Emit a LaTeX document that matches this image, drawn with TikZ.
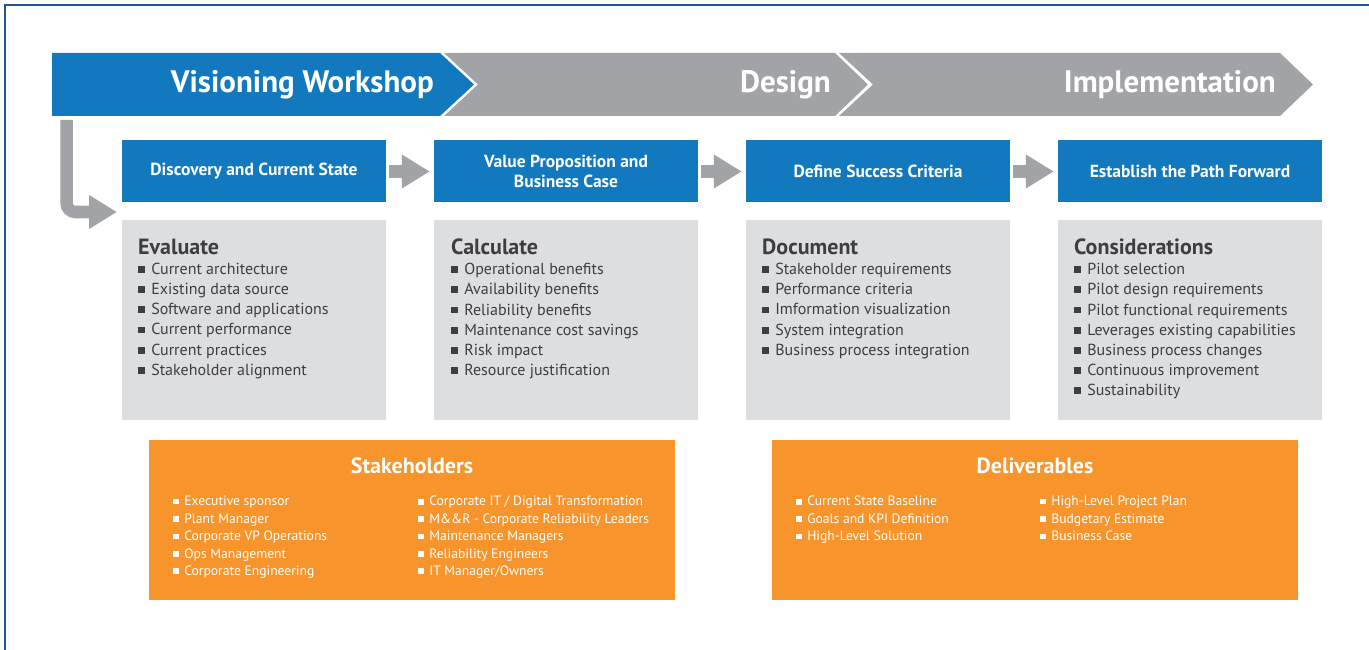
\documentclass[tikz,border=0pt]{standalone}
\usepackage{fontspec}
\setmainfont{PT Sans}
\usetikzlibrary{arrows.meta}

\definecolor{emblue}{RGB}{18,121,191}
\definecolor{emgray}{RGB}{162,163,166}
\definecolor{panelgray}{RGB}{221,222,224}
\definecolor{emorange}{RGB}{247,148,43}
\definecolor{textgray}{RGB}{62,62,64}
\definecolor{framecol}{RGB}{35,85,150}

\newcommand{\blt}{\rule[0.1em]{0.42em}{0.42em}\hspace{0.4em}}

\tikzset{
  phase/.style={text=white, anchor=east, inner sep=0pt, font=\fontsize{31}{34}\selectfont\bfseries},
  stepbox/.style={fill=emblue, text=white, minimum width=264pt, minimum height=62pt, inner sep=0pt, align=center, font=\fontsize{17.5}{20.5}\selectfont\bfseries},
  panel/.style={fill=panelgray, minimum width=264pt, minimum height=200pt, inner sep=0pt},
  paneltxt/.style={text=textgray, align=left, anchor=north west, inner sep=0pt, font=\fontsize{16}{20.2}\selectfont},
  flow/.style={draw=emgray, line width=12.5pt, -{Triangle[width=32pt,length=28pt]}},
  orangebox/.style={fill=emorange, minimum width=526pt, minimum height=160pt, inner sep=0pt},
  orangetitle/.style={text=white, inner sep=0pt, font=\fontsize{22}{24}\selectfont\bfseries},
  orangetxt/.style={text=white, align=left, anchor=north west, inner sep=0pt, font=\fontsize{13.6}{17.4}\selectfont}
}

\begin{document}
\begin{tikzpicture}[x=1pt,y=-1pt]
\useasboundingbox (0,0) rectangle (1369,650);
\draw[framecol, line width=1.5pt] (5,650) -- (5,5) -- (1369,5);

% phase chevrons
\fill[emblue] (52,53) -- (440,53) -- (474,84.5) -- (440,116) -- (52,116) -- cycle;
\fill[emgray] (444,53) -- (835,53) -- (868,84.5) -- (835,116) -- (444,116) -- (478,84.5) -- cycle;
\fill[emgray] (839,53) -- (1280,53) -- (1313,84.5) -- (1280,116) -- (839,116) -- (873,84.5) -- cycle;
\node[phase] (vision) at (434,84.5) {Visioning Workshop};
\node[phase] (design) at (831,84.5) {Design};
\node[phase] (implement) at (1276,84.5) {Implementation};

% steps
\node[stepbox] (discovery) at (254,171.5) {Discovery and Current State};
\node[stepbox] (value) at (566,171.5) {Value Proposition and\\Business Case};
\node[stepbox] (success) at (878,171.5) {Define Success Criteria};
\node[stepbox] (path) at (1190,171.5) {Establish the Path Forward};

\draw[flow] ([xshift=3pt]discovery.east) -- ([xshift=-4pt]value.west);
\draw[flow] ([xshift=3pt]value.east) -- ([xshift=-4pt]success.west);
\draw[flow] ([xshift=3pt]success.east) -- ([xshift=-4pt]path.west);

\coordinate (lstart) at (66.5,120);
\coordinate (lend) at (117,212);
\draw[flow, rounded corners=9pt] (lstart) |- (lend);

% panels
\node[panel] (evaluate) at (254,320) {};
\node[panel] (calculate) at (566,320) {};
\node[panel] (document) at (878,320) {};
\node[panel] (consider) at (1190,320) {};

\node[paneltxt] (evaltxt) at (138,238.5) {{\fontsize{22}{21}\selectfont\bfseries Evaluate}\\
\blt Current architecture\\
\blt Existing data source\\
\blt Software and applications\\
\blt Current performance\\
\blt Current practices\\
\blt Stakeholder alignment};
\node[paneltxt] (calctxt) at (451,238.5) {{\fontsize{22}{21}\selectfont\bfseries Calculate}\\
\blt Operational benefits\\
\blt Availability benefits\\
\blt Reliability benefits\\
\blt Maintenance cost savings\\
\blt Risk impact\\
\blt Resource justification};
\node[paneltxt] (doctxt) at (762,238.5) {{\fontsize{22}{21}\selectfont\bfseries Document}\\
\blt Stakeholder requirements\\
\blt Performance criteria\\
\blt Imformation visualization\\
\blt System integration\\
\blt Business process integration};
\node[paneltxt] (constxt) at (1074,238.5) {{\fontsize{22}{21}\selectfont\bfseries Considerations}\\
\blt Pilot selection\\
\blt Pilot design requirements\\
\blt Pilot functional requirements\\
\blt Leverages existing capabilities\\
\blt Business process changes\\
\blt Continuous improvement\\
\blt Sustainability};

% stakeholders and deliverables
\node[orangebox] (stake) at (412,520) {};
\node[orangetitle] (staketitle) at (412,466) {Stakeholders};
\node[orangetxt] (stakeA) at (173,496) {\blt Executive sponsor\\
\blt Plant Manager\\
\blt Corporate VP Operations\\
\blt Ops Management\\
\blt Corporate Engineering};
\node[orangetxt] (stakeB) at (418,496) {\blt Corporate IT / Digital Transformation\\
\blt M\&\&R - Corporate Reliability Leaders\\
\blt Maintenance Managers\\
\blt Reliability Engineers\\
\blt IT Manager/Owners};

\node[orangebox] (deliver) at (1035,520) {};
\node[orangetitle] (delivertitle) at (1035,466) {Deliverables};
\node[orangetxt] (deliverA) at (796,496) {\blt Current State Baseline\\
\blt Goals and KPI Definition\\
\blt High-Level Solution};
\node[orangetxt] (deliverB) at (1040,496) {\blt High-Level Project Plan\\
\blt Budgetary Estimate\\
\blt Business Case};
\end{tikzpicture}
\end{document}
